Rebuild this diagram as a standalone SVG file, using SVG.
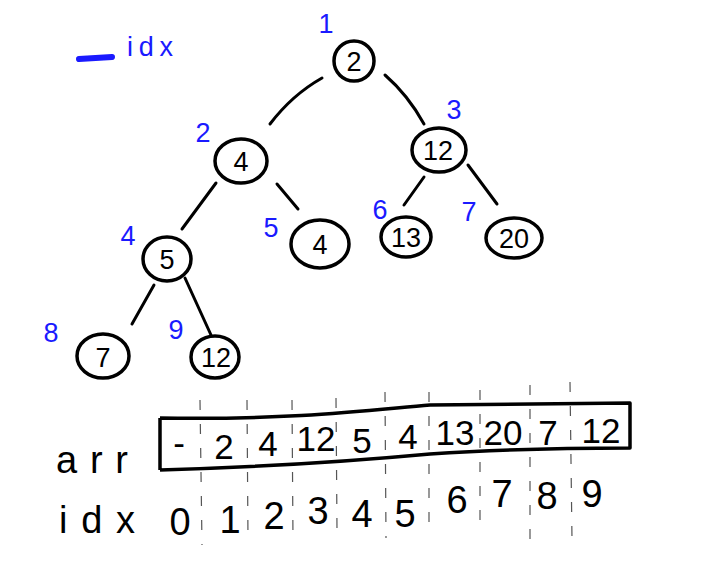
<svg xmlns="http://www.w3.org/2000/svg" width="708" height="587" viewBox="0 0 708 587">
<style>
.n{fill:none;stroke:#000;stroke-width:3.5}
.e{fill:none;stroke:#000;stroke-width:3;stroke-linecap:round}
.t{font-family:"Liberation Sans",Arial,sans-serif;font-size:27px;fill:#000;text-anchor:middle;dominant-baseline:central}
.b{font-family:"Liberation Sans",Arial,sans-serif;font-size:27px;fill:#1a1aff;text-anchor:middle;dominant-baseline:central}
.a{font-family:"Liberation Sans",Arial,sans-serif;font-size:35px;fill:#000;text-anchor:middle;dominant-baseline:central}
.i{font-family:"Liberation Sans",Arial,sans-serif;font-size:38px;fill:#000;text-anchor:middle;dominant-baseline:central}
.d{fill:none;stroke:#555;stroke-width:1.2;stroke-dasharray:10 14}
</style>
<rect width="708" height="587" fill="#fff"/>
<g id="legend">
<line x1="79" y1="59" x2="112" y2="57" stroke="#1a1aff" stroke-width="6" stroke-linecap="round"/>
<text class="b" x="150" y="47" font-size="30" textLength="46" lengthAdjust="spacing">idx</text>
</g>
<g id="edges">
<path class="e" d="M322 78 Q292 95 270 124"/>
<path class="e" d="M385 75 Q408 95 424 124"/>
<path class="e" d="M216 183 L182 229"/>
<path class="e" d="M277 184 L298 209"/>
<path class="e" d="M424 177 L404 205"/>
<path class="e" d="M468 165 L497 204"/>
<path class="e" d="M154 285 L132 324"/>
<path class="e" d="M185 278 L211 335"/>
</g>
<g id="n1"><ellipse class="n" cx="354" cy="61" rx="20" ry="20"/><text class="t" x="354" y="62">2</text><text class="b" x="326" y="24">1</text></g>
<g id="n2"><ellipse class="n" cx="241" cy="161" rx="26" ry="22"/><text class="t" x="241" y="162">4</text><text class="b" x="203" y="133">2</text></g>
<g id="n3"><ellipse class="n" cx="439" cy="150" rx="27" ry="22"/><text class="t" x="438" y="151">12</text><text class="b" x="454" y="110">3</text></g>
<g id="n4"><ellipse class="n" cx="167" cy="259" rx="24" ry="22"/><text class="t" x="167" y="260">5</text><text class="b" x="128" y="236">4</text></g>
<g id="n5"><ellipse class="n" cx="320" cy="244" rx="29" ry="24"/><text class="t" x="320" y="245">4</text><text class="b" x="271" y="228">5</text></g>
<g id="n6"><ellipse class="n" cx="406" cy="237" rx="25" ry="20"/><text class="t" x="406" y="238">13</text><text class="b" x="380" y="210">6</text></g>
<g id="n7"><ellipse class="n" cx="514" cy="238" rx="28" ry="20"/><text class="t" x="514" y="239">20</text><text class="b" x="469" y="212">7</text></g>
<g id="n8"><ellipse class="n" cx="103" cy="356" rx="26" ry="22"/><text class="t" x="103" y="358">7</text><text class="b" x="51" y="333" font-size="34">8</text></g>
<g id="n9"><ellipse class="n" cx="215" cy="357" rx="24" ry="21"/><text class="t" x="216" y="358">12</text><text class="b" x="176" y="330">9</text></g>
<g id="array">
<path class="d" d="M200 400 L202 545 M247 400 L248 540 M292 400 L293 540 M336 398 L337 530 M385 392 L386 538 M429 392 L429 528 M480 390 L480 525 M530 385 L530 550 M570 382 L572 540"/>
<path d="M160 418 L160 470 M160 418 C300 420 370 410 430 405 L630 403 L630 448 Q520 448 430 454 Q300 466 160 470" fill="none" stroke="#000" stroke-width="3.5" stroke-linejoin="round"/>
<text class="a" x="179" y="442">-</text>
<text class="a" x="224" y="446">2</text>
<text class="a" x="268" y="443">4</text>
<text class="a" x="316" y="438">12</text>
<text class="a" x="362" y="440">5</text>
<text class="a" x="408" y="436">4</text>
<text class="a" x="455" y="432">13</text>
<text class="a" x="503" y="432">20</text>
<text class="a" x="548" y="432">7</text>
<text class="a" x="601" y="430">12</text>
<text class="i" x="92" y="460" font-size="38" textLength="72" lengthAdjust="spacing">arr</text>
<text class="i" x="97" y="520" font-size="36" textLength="76" lengthAdjust="spacing">idx</text>
<text class="i" x="180" y="522">0</text>
<text class="i" x="230" y="520">1</text>
<text class="i" x="274" y="516">2</text>
<text class="i" x="318" y="511">3</text>
<text class="i" x="362" y="514">4</text>
<text class="i" x="405" y="514">5</text>
<text class="i" x="457" y="500">6</text>
<text class="i" x="502" y="494">7</text>
<text class="i" x="547" y="496">8</text>
<text class="i" x="592" y="494">9</text>
</g>
</svg>
